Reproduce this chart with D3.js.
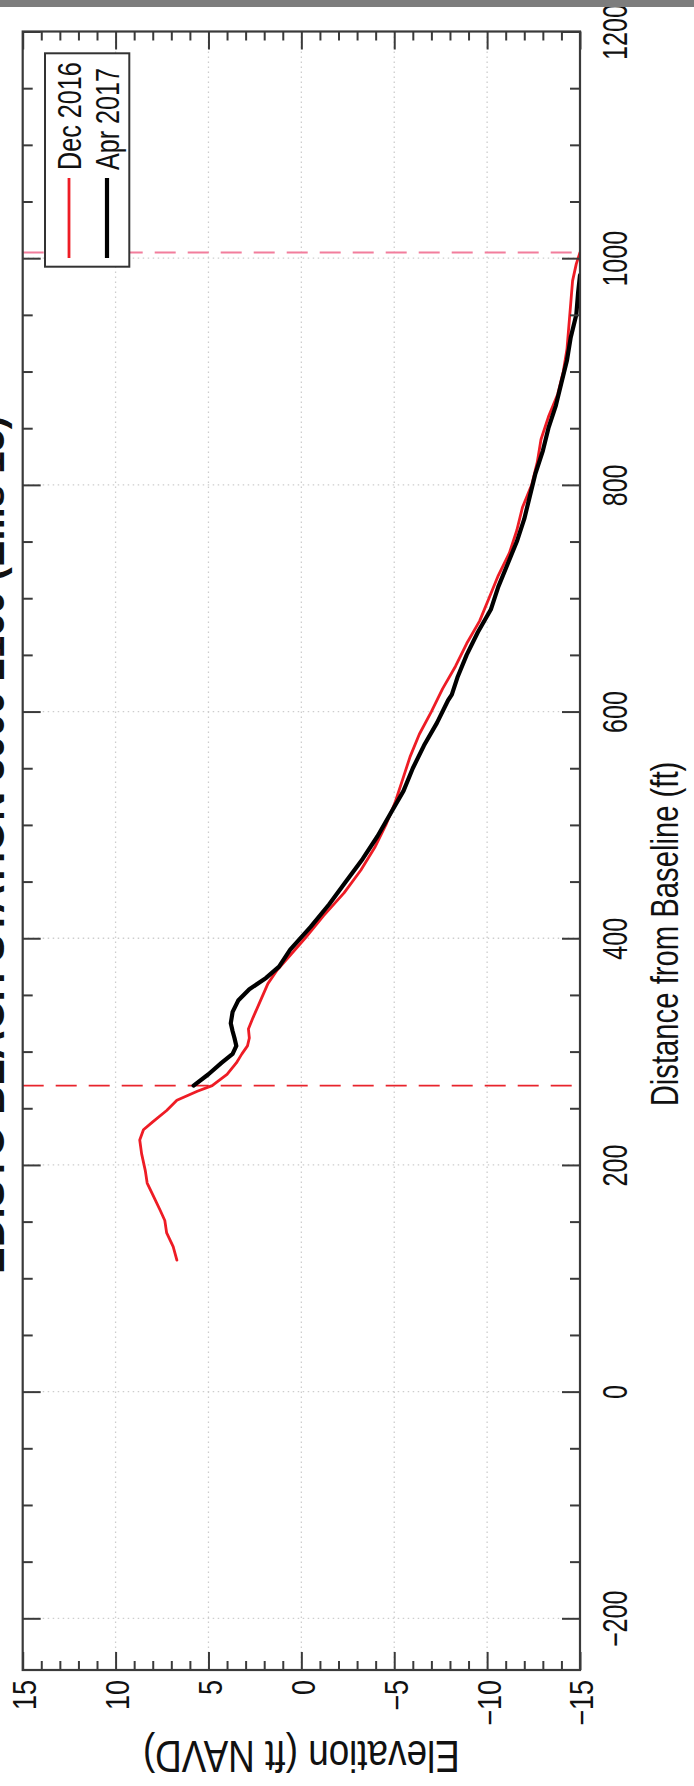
<!DOCTYPE html>
<html><head><meta charset="utf-8">
<script src="https://cdn.jsdelivr.net/npm/d3@7"></script>
<style>
html,body{margin:0;padding:0;background:#fff;}
svg{display:block;}
text{font-family:"Liberation Sans",Arial,sans-serif;fill:#111;}
</style></head>
<body>
<svg id="chart" width="694" height="1786"></svg>
<script>
// ---- data ----
const titleText = "EDISTO BEACH STATION 3000 2160 (Ellis 15)";
const seriesNames = ["Dec 2016", "Apr 2017"];
const distTicks = [-200, 0, 200, 400, 600, 800, 1000, 1200];
const elevTicks = [15, 10, 5, 0, -5, -10, -15];
const limitLines = [270, 1005];

const decDist = [116,128,140,151,160,172,184,195,210,222,231,238,248,257,265,270,280,290,298,305,312,320,330,345,360,372,385,400,420,440,460,480,500,520,540,560,580,600,620,640,660,680,700,720,740,760,780,800,820,840,860,880,900,920,940,960,980,995,1005];
const decElev = [6.7,6.9,7.25,7.35,7.6,7.95,8.3,8.4,8.6,8.7,8.5,8.0,7.25,6.7,5.6,4.8,4.0,3.5,3.2,2.9,2.8,2.85,2.6,2.2,1.8,1.3,0.6,-0.2,-1.2,-2.3,-3.2,-3.95,-4.55,-5.05,-5.45,-5.85,-6.35,-7.0,-7.6,-8.3,-8.9,-9.6,-10.1,-10.6,-11.2,-11.6,-11.9,-12.4,-12.7,-12.9,-13.3,-13.8,-14.1,-14.3,-14.4,-14.5,-14.6,-14.8,-15];

const aprDist = [270,280,290,298,305,312,318,325,335,345,355,365,375,390,410,430,450,470,490,510,530,550,570,590,610,615,630,650,670,690,710,730,750,770,790,810,830,850,870,890,910,930,950,970,985];
const aprElev = [5.8,5.0,4.3,3.7,3.5,3.6,3.7,3.8,3.7,3.4,2.8,1.9,1.2,0.6,-0.5,-1.5,-2.4,-3.3,-4.1,-4.8,-5.5,-6.0,-6.6,-7.3,-7.9,-8.1,-8.4,-8.9,-9.5,-10.2,-10.6,-11.1,-11.6,-12.0,-12.3,-12.6,-13.0,-13.3,-13.7,-14.0,-14.3,-14.5,-14.8,-14.9,-15];

// ---- layout ----
const L = 22.7, R = 580, T = 31.5, B = 1670;
const svg = d3.select("#chart");
const xE = d3.scaleLinear().domain([15, -15]).range([L, R]);
const yD = d3.scaleLinear().domain([-245.6, 1200]).range([B, T]);

const distMinor = d3.range(-200, 1201, 50).filter(v => v % 200 !== 0);
const elevMinor = d3.range(-15, 16, 1).filter(v => v % 5 !== 0);

// grid
const grid = svg.append("g").attr("stroke", "#cdcdcd").attr("stroke-width", 1.3).attr("stroke-dasharray", "1.5,3.5");
grid.selectAll(".gv").data(elevTicks.filter(v => Math.abs(v) < 15)).join("line")
  .attr("x1", d => xE(d)).attr("x2", d => xE(d)).attr("y1", T).attr("y2", B);
grid.selectAll(".gh").data(distTicks.filter(v => v < 1200)).join("line")
  .attr("y1", d => yD(d)).attr("y2", d => yD(d)).attr("x1", L).attr("x2", R);

// limit dashed lines
const limColors = ["#e8242c", "#f27d9c"];
svg.append("g").selectAll("line").data(limitLines).join("line")
  .attr("x1", L).attr("x2", R).attr("y1", d => yD(d)).attr("y2", d => yD(d))
  .attr("stroke", (d, i) => limColors[i]).attr("stroke-width", 1.8).attr("stroke-dasharray", "21,12");

// profiles
const clip = svg.append("clipPath").attr("id", "clip").append("rect")
  .attr("x", L).attr("y", T).attr("width", R - L).attr("height", B - T);
const line = d3.line().x(d => xE(d[1])).y(d => yD(d[0]));
const decPts = decDist.map((d, i) => [d, decElev[i]]);
const aprPts = aprDist.map((d, i) => [d, aprElev[i]]);
const pg = svg.append("g").attr("clip-path", "url(#clip)").attr("fill", "none").attr("stroke-linejoin", "round").attr("stroke-linecap", "round");
pg.append("path").attr("d", line(decPts)).attr("stroke", "#ee1c25").attr("stroke-width", 2.8);
pg.append("path").attr("d", line(aprPts)).attr("stroke", "#000").attr("stroke-width", 4.2);

// legend
const lg = svg.append("g");
lg.append("rect").attr("x", 45).attr("y", 53.3).attr("width", 84.3).attr("height", 213.4)
  .attr("fill", "#fff").attr("stroke", "#333").attr("stroke-width", 2);
const legColors = ["#ee1c25", "#000"], legWidths = [2.8, 4.2], legX = [69, 107];
seriesNames.forEach((name, i) => {
  lg.append("line").attr("x1", legX[i]).attr("x2", legX[i]).attr("y1", 178).attr("y2", 258)
    .attr("stroke", legColors[i]).attr("stroke-width", legWidths[i]);
  lg.append("text").text(name)
    .attr("transform", `translate(${legX[i]},170) rotate(-90) scale(0.74,1)`)
    .attr("dy", "0.36em").attr("text-anchor", "start").attr("font-size", 34);
});

// axes / frame
const frameColor = "#3a3a3a";
function styleAxis(g) {
  g.select(".domain").remove();
  g.selectAll("line").attr("stroke", frameColor).attr("stroke-width", 2);
}
// right distance axis (labels)
const axR = svg.append("g").attr("transform", `translate(${R},0)`)
  .call(d3.axisRight(yD).tickValues(distTicks).tickSize(-18).tickFormat(d3.format("d")));
styleAxis(axR);
axR.selectAll("text").attr("x", 0).attr("dy", 0)
  .attr("transform", "translate(47,0) rotate(-90) scale(0.73,1)")
  .attr("text-anchor", "middle").attr("font-size", 34.4).attr("fill", "#1a1a1a");
const axRm = svg.append("g").attr("transform", `translate(${R},0)`)
  .call(d3.axisRight(yD).tickValues(distMinor).tickSize(-10).tickFormat(""));
styleAxis(axRm);
// left mirrored
const axL = svg.append("g").attr("transform", `translate(${L},0)`)
  .call(d3.axisLeft(yD).tickValues(distTicks).tickSize(-18).tickFormat(""));
styleAxis(axL);
const axLm = svg.append("g").attr("transform", `translate(${L},0)`)
  .call(d3.axisLeft(yD).tickValues(distMinor).tickSize(-10).tickFormat(""));
styleAxis(axLm);
// bottom elevation axis
const axB = svg.append("g").attr("transform", `translate(0,${B})`)
  .call(d3.axisBottom(xE).tickValues(elevTicks).tickSize(-18).tickFormat(d3.format("d")));
styleAxis(axB);
axB.selectAll("text").attr("y", 0).attr("dy", "0.36em")
  .attr("transform", "translate(1,10) rotate(-90) scale(0.82,1)")
  .attr("text-anchor", "end").attr("font-size", 33).attr("fill", "#1a1a1a");
const axBm = svg.append("g").attr("transform", `translate(0,${B})`)
  .call(d3.axisBottom(xE).tickValues(elevMinor).tickSize(-9).tickFormat(""));
styleAxis(axBm);
const axT = svg.append("g").attr("transform", `translate(0,${T})`)
  .call(d3.axisTop(xE).tickValues(elevTicks).tickSize(-18).tickFormat(""));
styleAxis(axT);
const axTm = svg.append("g").attr("transform", `translate(0,${T})`)
  .call(d3.axisTop(xE).tickValues(elevMinor).tickSize(-9).tickFormat(""));
styleAxis(axTm);

svg.append("rect").attr("x", L).attr("y", T).attr("width", R - L).attr("height", B - T)
  .attr("fill", "none").attr("stroke", frameColor).attr("stroke-width", 2.2);

// axis titles
svg.append("text").text("Distance from Baseline (ft)")
  .attr("transform", "translate(678,934) rotate(-90) scale(0.75,1)")
  .attr("text-anchor", "middle").attr("font-size", 39).attr("fill", "#1a1a1a");
svg.append("text").text("Elevation (ft NAVD)")
  .attr("transform", `translate(${xE(0)},1741) rotate(180) scale(0.82,1)`)
  .attr("text-anchor", "middle").attr("font-size", 45).attr("fill", "#1a1a1a");

// chart title (cut off at left edge)
svg.append("text").text(titleText)
  .attr("transform", "translate(4,845) rotate(-90)")
  .attr("text-anchor", "middle").attr("font-size", 40).attr("font-weight", "bold").attr("fill", "#111");

// top gray bar
svg.append("rect").attr("x", 0).attr("y", 0).attr("width", 694).attr("height", 7).attr("fill", "#7d7d7d");
</script>
</body></html>
